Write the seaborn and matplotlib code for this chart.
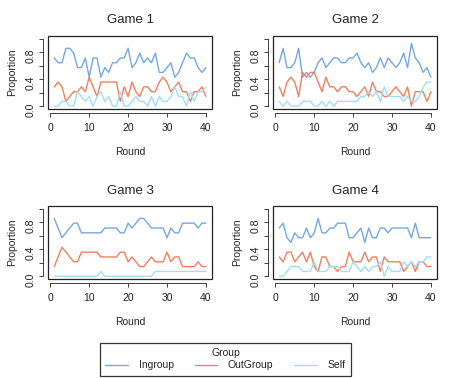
import pandas as pd
import numpy as np
import seaborn as sns
import matplotlib.pyplot as plt
from matplotlib.patches import Rectangle
from matplotlib.lines import Line2D

# data: proportion of choices per round, 4 games
rounds = list(range(1, 41))
groups = ['Ingroup', 'OutGroup', 'Self']

g1_in = [0.714, 0.643, 0.643, 0.857, 0.857, 0.786, 0.571, 0.571, 0.714, 0.429,
         0.714, 0.714, 0.429, 0.571, 0.5, 0.643, 0.643, 0.714, 0.714, 0.857,
         0.571, 0.643, 0.786, 0.643, 0.714, 0.643, 0.786, 0.5, 0.5, 0.571,
         0.643, 0.429, 0.5, 0.643, 0.786, 0.714, 0.714, 0.571, 0.5, 0.571]
g1_out = [0.286, 0.357, 0.286, 0.071, 0.143, 0.214, 0.214, 0.286, 0.214, 0.429,
          0.286, 0.143, 0.357, 0.357, 0.357, 0.357, 0.357, 0.071, 0.286, 0.143,
          0.357, 0.214, 0.143, 0.286, 0.286, 0.214, 0.214, 0.357, 0.429, 0.357,
          0.214, 0.286, 0.357, 0.214, 0.214, 0.071, 0.214, 0.214, 0.286, 0.143]
g1_self = [0.0, 0.0, 0.071, 0.071, 0.0, 0.0, 0.214, 0.143, 0.071, 0.143,
           0.0, 0.143, 0.214, 0.071, 0.143, 0.0, 0.0, 0.214, 0.0, 0.0,
           0.071, 0.143, 0.071, 0.071, 0.0, 0.143, 0.0, 0.143, 0.071, 0.071,
           0.143, 0.286, 0.143, 0.143, 0.0, 0.214, 0.071, 0.214, 0.214, 0.286]

g2_in = [0.643, 0.857, 0.571, 0.571, 0.643, 0.857, 0.429, 0.5, 0.429, 0.5,
         0.643, 0.714, 0.571, 0.643, 0.714, 0.714, 0.643, 0.643, 0.714, 0.714,
         0.786, 0.643, 0.571, 0.643, 0.5, 0.571, 0.714, 0.571, 0.714, 0.643,
         0.571, 0.643, 0.786, 0.571, 0.929, 0.714, 0.643, 0.5, 0.571, 0.429]
g2_out = [0.286, 0.143, 0.357, 0.429, 0.357, 0.143, 0.5, 0.429, 0.5, 0.5,
          0.357, 0.214, 0.429, 0.286, 0.286, 0.214, 0.286, 0.286, 0.214, 0.214,
          0.143, 0.214, 0.286, 0.143, 0.357, 0.214, 0.214, 0.143, 0.143, 0.214,
          0.286, 0.214, 0.143, 0.286, 0.0, 0.214, 0.214, 0.214, 0.071, 0.214]
g2_self = [0.071, 0.0, 0.071, 0.0, 0.0, 0.0, 0.071, 0.071, 0.071, 0.0,
           0.0, 0.071, 0.0, 0.071, 0.0, 0.071, 0.071, 0.071, 0.071, 0.071,
           0.071, 0.143, 0.143, 0.214, 0.143, 0.214, 0.071, 0.286, 0.143, 0.143,
           0.143, 0.143, 0.071, 0.143, 0.071, 0.071, 0.143, 0.286, 0.357, 0.357]

g3_in = [0.857, 0.714, 0.571, 0.643, 0.714, 0.786, 0.786, 0.643, 0.643, 0.643,
         0.643, 0.643, 0.643, 0.714, 0.714, 0.714, 0.714, 0.643, 0.643, 0.786,
         0.714, 0.786, 0.857, 0.857, 0.786, 0.714, 0.714, 0.714, 0.714, 0.571,
         0.714, 0.643, 0.643, 0.786, 0.786, 0.786, 0.786, 0.714, 0.786, 0.786]
g3_out = [0.143, 0.286, 0.429, 0.357, 0.286, 0.214, 0.214, 0.357, 0.357, 0.357,
          0.357, 0.357, 0.286, 0.286, 0.286, 0.286, 0.286, 0.357, 0.357, 0.214,
          0.286, 0.214, 0.143, 0.143, 0.214, 0.286, 0.214, 0.214, 0.214, 0.357,
          0.214, 0.286, 0.286, 0.143, 0.143, 0.143, 0.143, 0.214, 0.143, 0.143]
g3_self = [0.0, 0.0, 0.0, 0.0, 0.0, 0.0, 0.0, 0.0, 0.0, 0.0,
           0.0, 0.0, 0.071, 0.0, 0.0, 0.0, 0.0, 0.0, 0.0, 0.0,
           0.0, 0.0, 0.0, 0.0, 0.0, 0.0, 0.071, 0.071, 0.071, 0.071,
           0.071, 0.071, 0.071, 0.071, 0.071, 0.071, 0.071, 0.071, 0.071, 0.071]

g4_in = [0.714, 0.786, 0.571, 0.5, 0.643, 0.571, 0.571, 0.714, 0.571, 0.643,
         0.857, 0.643, 0.643, 0.714, 0.714, 0.786, 0.786, 0.786, 0.571, 0.571,
         0.643, 0.714, 0.5, 0.714, 0.571, 0.571, 0.714, 0.714, 0.643, 0.714,
         0.714, 0.714, 0.714, 0.714, 0.571, 0.786, 0.571, 0.571, 0.571, 0.571]
g4_out = [0.286, 0.214, 0.357, 0.357, 0.214, 0.286, 0.357, 0.214, 0.357, 0.143,
          0.071, 0.286, 0.286, 0.143, 0.143, 0.071, 0.143, 0.143, 0.357, 0.214,
          0.214, 0.214, 0.357, 0.214, 0.286, 0.286, 0.071, 0.286, 0.214, 0.214,
          0.214, 0.214, 0.071, 0.143, 0.214, 0.071, 0.214, 0.214, 0.143, 0.143]
g4_self = [0.0, 0.0, 0.071, 0.143, 0.143, 0.143, 0.071, 0.071, 0.071, 0.214,
           0.071, 0.071, 0.071, 0.143, 0.143, 0.143, 0.071, 0.071, 0.071, 0.214,
           0.143, 0.071, 0.143, 0.071, 0.143, 0.143, 0.214, 0.0, 0.143, 0.071,
           0.071, 0.071, 0.214, 0.143, 0.214, 0.143, 0.214, 0.214, 0.286, 0.286]

games = {
    'Game 1': [g1_in, g1_out, g1_self],
    'Game 2': [g2_in, g2_out, g2_self],
    'Game 3': [g3_in, g3_out, g3_self],
    'Game 4': [g4_in, g4_out, g4_self],
}

# long format
rows = []
for game, series in games.items():
    for grp, vals in zip(groups, series):
        for r, v in zip(rounds, vals):
            rows.append((game, grp, r, v))
df = pd.DataFrame(rows, columns=['game', 'Group', 'Round', 'Proportion'])

pal = {'Ingroup': '#74a8e0', 'OutGroup': '#f0805c', 'Self': '#a2dcf7'}

sns.set_style('white')
plt.rcParams['font.family'] = ['Liberation Sans', 'DejaVu Sans']

fig = plt.figure(figsize=(4.5, 3.78), dpi=100)
lefts = [0.107, 0.607]
bottoms = [0.712, 0.262]
w, h = 0.364, 0.193

for i, game in enumerate(games):
    ax = fig.add_axes([lefts[i % 2], bottoms[i // 2], w, h])
    sns.lineplot(data=df[df['game'] == game], x='Round', y='Proportion',
                 hue='Group', palette=pal, hue_order=groups,
                 linewidth=1, legend=False, ax=ax)
    ax.set_xlim(-0.56, 41.56)
    ax.set_ylim(-0.04, 1.04)
    ax.set_xticks([0, 10, 20, 30, 40])
    ax.set_yticks([0, 0.2, 0.4, 0.6, 0.8, 1.0])
    ax.set_yticklabels(['0.0', '', '0.4', '', '0.8', ''])
    ax.tick_params(axis='both', labelsize=7.5, length=3, width=0.6,
                   direction='out', colors='#222222', pad=2)
    ax.tick_params(axis='x', bottom=True, pad=4)
    ax.tick_params(axis='y', left=True, labelrotation=90)
    for lab in ax.get_yticklabels():
        lab.set_va('center')
    for s in ['top', 'right']:
        ax.spines[s].set_visible(False)
    ax.spines['bottom'].set_position(('outward', 3))
    ax.spines['left'].set_position(('outward', 4))
    ax.spines['bottom'].set_bounds(0, 40)
    ax.spines['left'].set_bounds(0, 1)
    for s in ['bottom', 'left']:
        ax.spines[s].set_linewidth(0.6)
        ax.spines[s].set_color('#222222')
    ax.add_patch(Rectangle((0, 0), 1, 1, transform=ax.transAxes, fill=False,
                           edgecolor='#222222', linewidth=0.9, clip_on=False))
    ax.set_title(game, fontsize=9.5, pad=9)
    ax.set_xlabel('Round', fontsize=7.5, labelpad=10)
    ax.set_ylabel('Proportion', fontsize=7.5, labelpad=6)

handles = [Line2D([], [], color=pal[g], linewidth=1) for g in groups]
leg = fig.legend(handles, groups, title='Group', ncol=3, loc='lower center',
                 bbox_to_anchor=(0.501, 0.005), fontsize=7.5, title_fontsize=7.5,
                 frameon=True, fancybox=False, handlelength=2.2,
                 columnspacing=2.0, borderpad=0.55, labelspacing=0.2,
                 handletextpad=1.0, borderaxespad=0)
leg.get_frame().set_edgecolor('black')
leg.get_frame().set_linewidth(0.9)

fig.savefig('out.png', dpi=100)
